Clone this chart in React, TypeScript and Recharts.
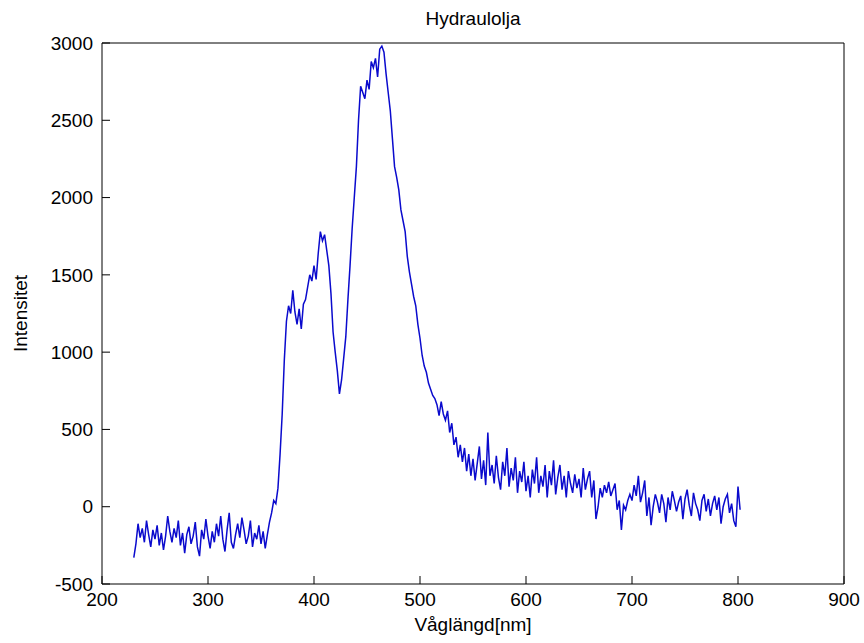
import React from 'react';
import { LineChart, Line, XAxis, YAxis } from 'recharts';

const title = 'Hydraulolja';
const xLabel = 'Våglängd[nm]';
const yLabel = 'Intensitet';

const xTicks = [200, 300, 400, 500, 600, 700, 800, 900];
const yTicks = [-500, 0, 500, 1000, 1500, 2000, 2500, 3000];

const wavelength = [
  230, 232, 234, 236, 238, 240, 242, 244, 246, 248, 250, 252, 254, 256, 258, 260, 262, 264, 266, 268,
  270, 272, 274, 276, 278, 280, 282, 284, 286, 288, 290, 292, 294, 296, 298, 300, 302, 304, 306, 308,
  310, 312, 314, 316, 318, 320, 322, 324, 326, 328, 330, 332, 334, 336, 338, 340, 342, 344, 346, 348,
  350, 352, 354, 356, 358, 360, 362, 364, 366, 368, 370, 372, 374, 376, 378, 380, 382, 384, 386, 388,
  390, 392, 394, 396, 398, 400, 402, 404, 406, 408, 410, 412, 414, 416, 418, 420, 422, 424, 426, 428,
  430, 432, 434, 436, 438, 440, 442, 444, 446, 448, 450, 452, 454, 456, 458, 460, 462, 464, 466, 468,
  470, 472, 474, 476, 478, 480, 482, 484, 486, 488, 490, 492, 494, 496, 498, 500, 502, 504, 506, 508,
  510, 512, 514, 516, 518, 520, 522, 524, 526, 528, 530, 532, 534, 536, 538, 540, 542, 544, 546, 548,
  550, 552, 554, 556, 558, 560, 562, 564, 566, 568, 570, 572, 574, 576, 578, 580, 582, 584, 586, 588,
  590, 592, 594, 596, 598, 600, 602, 604, 606, 608, 610, 612, 614, 616, 618, 620, 622, 624, 626, 628,
  630, 632, 634, 636, 638, 640, 642, 644, 646, 648, 650, 652, 654, 656, 658, 660, 662, 664, 666, 668,
  670, 672, 674, 676, 678, 680, 682, 684, 686, 688, 690, 692, 694, 696, 698, 700, 702, 704, 706, 708,
  710, 712, 714, 716, 718, 720, 722, 724, 726, 728, 730, 732, 734, 736, 738, 740, 742, 744, 746, 748,
  750, 752, 754, 756, 758, 760, 762, 764, 766, 768, 770, 772, 774, 776, 778, 780, 782, 784, 786, 788,
  790, 792, 794, 796, 798, 800, 802,
];

const intensity = [
  -330, -240, -110, -200, -140, -230, -90, -180, -260, -150, -210, -120, -250, -170, -280, -190, -60, -160, -230, -140,
  -200, -90, -250, -170, -300, -180, -130, -240, -190, -100, -260, -320, -150, -210, -80, -190, -270, -160, -230, -110,
  -190, -60, -210, -290, -150, -40, -230, -270, -180, -110, -200, -70, -150, -240, -190, -90, -260, -170, -210, -120,
  -240, -160, -270, -180, -100, -40, 40, 20, 120, 340, 600, 950, 1200, 1300, 1250, 1400, 1260, 1180, 1280, 1150,
  1310, 1340, 1420, 1500, 1460, 1560, 1470, 1640, 1780, 1720, 1760, 1660, 1560, 1380, 1130, 1000, 880, 730, 820, 960,
  1100, 1340, 1560, 1800, 2000, 2200, 2500, 2720, 2680, 2640, 2760, 2700, 2880, 2840, 2900, 2780, 2960, 2980, 2940, 2800,
  2680, 2560, 2380, 2200, 2130, 2050, 1920, 1850, 1780, 1620, 1520, 1440, 1360, 1300, 1180, 1090, 980, 910, 870, 800,
  760, 720, 700, 660, 590, 680, 600, 560, 620, 480, 540, 400, 450, 320, 400, 290, 380, 230, 340, 200,
  310, 170, 280, 390, 180, 300, 140, 480, 200, 270, 150, 330, 190, 110, 290, 200, 380, 130, 250, 170,
  320, 90, 230, 160, 290, 100, 200, 60, 240, 150, 320, 90, 200, 130, 270, 60, 230, 140, 300, 80,
  190, 270, 110, 200, 60, 230, 150, 90, 210, 120, 180, 60, 250, 110, 180, 230, 60, 170, -80, 0,
  120, 60, 140, 90, 160, 70, 110, 150, -20, 40, -150, 10, -20, 40, 80, 40, 140, 70, 200, 30,
  90, 170, -60, 60, -120, 0, 80, 30, -40, 80, 20, -100, 60, -20, 100, 40, -30, 30, 70, -80,
  50, 110, 10, -60, 90, 20, -20, -90, 40, 80, -30, 50, -60, 20, 70, -20, 60, -110, 0, 50,
  80, -40, 20, -90, -130, 130, -20,
];

const data = wavelength.map((nm, i) => ({ nm, v: intensity[i] }));

const FONT = '"Liberation Sans", Arial, Helvetica, sans-serif';
const tickStyle = { fontSize: 19, fill: '#000', fontFamily: FONT };

export default function App() {
  return (
    <div style={{ position: 'absolute', left: 0, top: 0, width: 864, height: 643, background: '#fff' }}>
      <LineChart
        width={864}
        height={643}
        data={data}
        margin={{ top: 0, right: 0, bottom: 0, left: 0 }}
        style={{ fontFamily: FONT }}
      >
        <XAxis
          xAxisId="b"
          dataKey="nm"
          type="number"
          domain={[200, 900]}
          ticks={xTicks}
          orientation="bottom"
          height={59}
          tickSize={-8}
          tickMargin={17}
          interval={0}
          stroke="#000"
          tick={tickStyle}
          label={{ value: xLabel, position: 'insideBottom', offset: 12, style: { fontSize: 19, fill: '#000', fontFamily: FONT } }}
        />
        <XAxis
          xAxisId="t"
          dataKey="nm"
          type="number"
          domain={[200, 900]}
          ticks={xTicks}
          orientation="top"
          height={43}
          tickSize={-8}
          interval={0}
          stroke="#000"
          tick={false}
          label={{ value: title, position: 'insideTop', offset: 12, style: { fontSize: 19, fill: '#000', fontFamily: FONT } }}
        />
        <YAxis
          yAxisId="l"
          type="number"
          domain={[-500, 3000]}
          ticks={yTicks}
          orientation="left"
          width={102}
          tickSize={-8}
          tickMargin={17}
          interval={0}
          stroke="#000"
          tick={tickStyle}
          label={{ value: yLabel, angle: -90, position: 'insideLeft', offset: 20, style: { textAnchor: 'middle', fontSize: 19, fill: '#000', fontFamily: FONT } }}
        />
        <YAxis
          yAxisId="r"
          type="number"
          domain={[-500, 3000]}
          ticks={yTicks}
          orientation="right"
          width={20}
          tickSize={-8}
          interval={0}
          stroke="#000"
          tick={false}
        />
        <Line
          xAxisId="b"
          yAxisId="l"
          type="linear"
          dataKey="v"
          stroke="#0a0acd"
          strokeWidth={1.5}
          dot={false}
          isAnimationActive={false}
        />
      </LineChart>
    </div>
  );
}
